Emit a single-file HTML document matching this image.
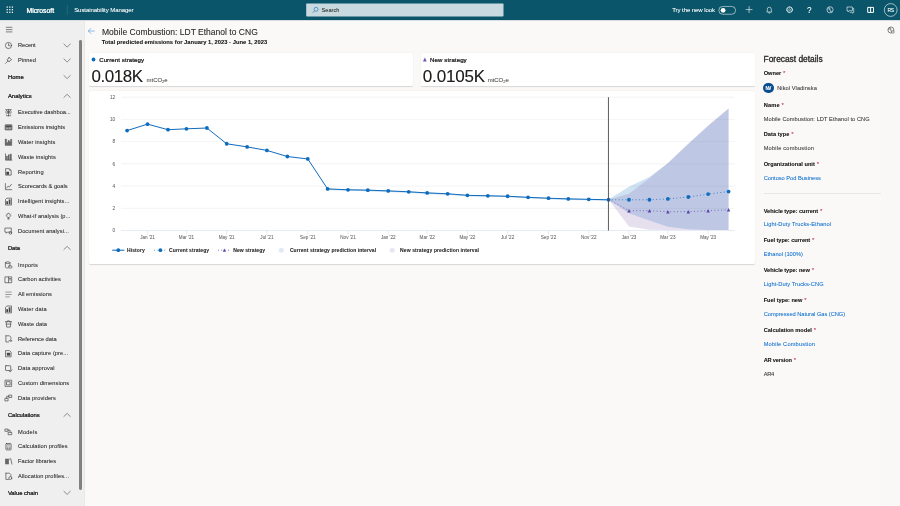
<!DOCTYPE html>
<html><head><meta charset="utf-8"><title>Sustainability Manager</title>
<style>
html,body{margin:0;padding:0;}
body{width:900px;height:506px;overflow:hidden;position:relative;background:#faf9f8;font-family:"Liberation Sans",sans-serif;}
.t{position:absolute;white-space:nowrap;line-height:1;}
.r{position:absolute;}
svg{position:absolute;overflow:visible;}
#wrap{position:absolute;left:0;top:0;width:900px;height:506px;overflow:hidden;will-change:transform;}
</style></head><body><div id="wrap">
<div class="r" style="left:0.00px;top:0.00px;width:900.00px;height:20.00px;background:#0b556a;"></div>
<div class="r" style="left:0.00px;top:20.00px;width:84.70px;height:486.00px;background:#efefef;box-shadow:inset -0.8px 0 0.6px rgba(0,0,0,0.035);"></div>
<div class="r" style="left:881.30px;top:20.50px;width:18.70px;height:486.00px;background:#f9f8f7;"></div>
<div class="r" style="left:0.00px;top:20.00px;width:900.00px;height:0.80px;background:#d5dde0;"></div>
<div class="r" style="left:78.90px;top:39.90px;width:2.95px;height:450.10px;background:#818181;border-radius:1.45px;"></div>
<div class="r" style="left:88.60px;top:52.50px;width:324.70px;height:33.70px;background:#fff;box-shadow:0 0.1px 0.7px rgba(0,0,0,.07),0 0.8px 1.6px rgba(0,0,0,.075);border-radius:1.6px;"></div>
<div class="r" style="left:420.90px;top:52.50px;width:333.70px;height:33.70px;background:#fff;box-shadow:0 0.1px 0.7px rgba(0,0,0,.07),0 0.8px 1.6px rgba(0,0,0,.075);border-radius:1.6px;"></div>
<div class="r" style="left:88.60px;top:91.10px;width:666.00px;height:172.80px;background:#fff;box-shadow:0 0.1px 0.7px rgba(0,0,0,.07),0 0.8px 1.6px rgba(0,0,0,.075);border-radius:1.6px;"></div>
<svg style="left:0;top:0" width="900" height="506" viewBox="0 0 900 506">
<line x1="121" x2="734.7" y1="208.32" y2="208.32" stroke="#e6e6e6" stroke-width="0.45"/>
<line x1="121" x2="734.7" y1="186.09" y2="186.09" stroke="#e6e6e6" stroke-width="0.45"/>
<line x1="121" x2="734.7" y1="163.86" y2="163.86" stroke="#e6e6e6" stroke-width="0.45"/>
<line x1="121" x2="734.7" y1="141.63" y2="141.63" stroke="#e6e6e6" stroke-width="0.45"/>
<line x1="121" x2="734.7" y1="119.40" y2="119.40" stroke="#e6e6e6" stroke-width="0.45"/>
<line x1="121" x2="734.7" y1="97.17" y2="97.17" stroke="#e6e6e6" stroke-width="0.45"/>
<polygon points="608.53,199.60 628.98,186.70 649.42,177.00 667.89,163.30 688.33,144.00 708.12,126.00 728.56,108.80 728.56,229.90 708.12,229.90 688.33,229.30 667.89,226.80 649.42,220.50 628.98,213.30 608.53,199.60" fill="rgba(15,108,189,0.2)"/>
<polygon points="608.53,199.60 628.98,193.70 649.42,178.20 667.89,163.00 688.33,143.50 708.12,125.50 728.56,108.30 728.56,229.90 708.12,229.90 688.33,229.90 667.89,229.90 649.42,229.70 628.98,226.50 608.53,199.60" fill="rgba(125,95,170,0.2)"/>
<polygon points="327.59,188.61 348.03,189.49 367.82,189.83 388.26,190.60 408.71,191.49 427.17,192.60 447.62,193.49 467.40,195.04 487.85,195.48 507.63,195.93 528.08,197.03 548.52,197.92 568.31,198.59 588.75,199.03 608.53,199.47 608.53,200.77 588.75,200.33 568.31,199.89 548.52,199.22 528.08,198.33 507.63,197.23 487.85,196.78 467.40,196.34 447.62,194.79 427.17,193.90 408.71,192.79 388.26,191.90 367.82,191.13 348.03,190.79 327.59,189.91" fill="rgba(15,108,189,0.28)"/>
<line x1="121" x2="734.7" y1="230.55" y2="230.55" stroke="#ccd6eb" stroke-width="0.5"/>
<line x1="147.54" x2="147.54" y1="230.55" y2="234.75" stroke="#ccd6eb" stroke-width="0.5"/>
<line x1="186.45" x2="186.45" y1="230.55" y2="234.75" stroke="#ccd6eb" stroke-width="0.5"/>
<line x1="226.68" x2="226.68" y1="230.55" y2="234.75" stroke="#ccd6eb" stroke-width="0.5"/>
<line x1="266.91" x2="266.91" y1="230.55" y2="234.75" stroke="#ccd6eb" stroke-width="0.5"/>
<line x1="307.80" x2="307.80" y1="230.55" y2="234.75" stroke="#ccd6eb" stroke-width="0.5"/>
<line x1="348.03" x2="348.03" y1="230.55" y2="234.75" stroke="#ccd6eb" stroke-width="0.5"/>
<line x1="388.26" x2="388.26" y1="230.55" y2="234.75" stroke="#ccd6eb" stroke-width="0.5"/>
<line x1="427.17" x2="427.17" y1="230.55" y2="234.75" stroke="#ccd6eb" stroke-width="0.5"/>
<line x1="467.40" x2="467.40" y1="230.55" y2="234.75" stroke="#ccd6eb" stroke-width="0.5"/>
<line x1="507.63" x2="507.63" y1="230.55" y2="234.75" stroke="#ccd6eb" stroke-width="0.5"/>
<line x1="548.52" x2="548.52" y1="230.55" y2="234.75" stroke="#ccd6eb" stroke-width="0.5"/>
<line x1="588.75" x2="588.75" y1="230.55" y2="234.75" stroke="#ccd6eb" stroke-width="0.5"/>
<line x1="628.98" x2="628.98" y1="230.55" y2="234.75" stroke="#ccd6eb" stroke-width="0.5"/>
<line x1="667.89" x2="667.89" y1="230.55" y2="234.75" stroke="#ccd6eb" stroke-width="0.5"/>
<line x1="708.12" x2="708.12" y1="230.55" y2="234.75" stroke="#ccd6eb" stroke-width="0.5"/>
<polyline fill="none" stroke="#0f6cbd" stroke-width="1.0" stroke-linejoin="round" points="127.10,130.57 147.54,124.14 167.99,129.69 186.45,128.80 206.90,128.02 226.68,143.77 247.13,146.88 266.91,150.42 287.36,156.52 307.80,158.96 327.59,188.91 348.03,189.79 367.82,190.13 388.26,190.90 408.71,191.79 427.17,192.90 447.62,193.79 467.40,195.34 487.85,195.78 507.63,196.23 528.08,197.33 548.52,198.22 568.31,198.89 588.75,199.33 608.53,199.77"/>
<circle cx="127.10" cy="130.57" r="1.9" fill="#0f6cbd"/>
<circle cx="147.54" cy="124.14" r="1.9" fill="#0f6cbd"/>
<circle cx="167.99" cy="129.69" r="1.9" fill="#0f6cbd"/>
<circle cx="186.45" cy="128.80" r="1.9" fill="#0f6cbd"/>
<circle cx="206.90" cy="128.02" r="1.9" fill="#0f6cbd"/>
<circle cx="226.68" cy="143.77" r="1.9" fill="#0f6cbd"/>
<circle cx="247.13" cy="146.88" r="1.9" fill="#0f6cbd"/>
<circle cx="266.91" cy="150.42" r="1.9" fill="#0f6cbd"/>
<circle cx="287.36" cy="156.52" r="1.9" fill="#0f6cbd"/>
<circle cx="307.80" cy="158.96" r="1.9" fill="#0f6cbd"/>
<circle cx="327.59" cy="188.91" r="1.9" fill="#0f6cbd"/>
<circle cx="348.03" cy="189.79" r="1.9" fill="#0f6cbd"/>
<circle cx="367.82" cy="190.13" r="1.9" fill="#0f6cbd"/>
<circle cx="388.26" cy="190.90" r="1.9" fill="#0f6cbd"/>
<circle cx="408.71" cy="191.79" r="1.9" fill="#0f6cbd"/>
<circle cx="427.17" cy="192.90" r="1.9" fill="#0f6cbd"/>
<circle cx="447.62" cy="193.79" r="1.9" fill="#0f6cbd"/>
<circle cx="467.40" cy="195.34" r="1.9" fill="#0f6cbd"/>
<circle cx="487.85" cy="195.78" r="1.9" fill="#0f6cbd"/>
<circle cx="507.63" cy="196.23" r="1.9" fill="#0f6cbd"/>
<circle cx="528.08" cy="197.33" r="1.9" fill="#0f6cbd"/>
<circle cx="548.52" cy="198.22" r="1.9" fill="#0f6cbd"/>
<circle cx="568.31" cy="198.89" r="1.9" fill="#0f6cbd"/>
<circle cx="588.75" cy="199.33" r="1.9" fill="#0f6cbd"/>
<circle cx="608.53" cy="199.77" r="1.9" fill="#0f6cbd"/>
<polyline fill="none" stroke="#0f6cbd" stroke-width="0.85" stroke-dasharray="0.85 2.55" points="608.53,199.77 628.98,199.77 649.42,199.77 667.89,198.89 688.33,197.00 708.12,194.12 728.56,191.57"/>
<circle cx="628.98" cy="199.77" r="1.9" fill="#0f6cbd"/>
<circle cx="649.42" cy="199.77" r="1.9" fill="#0f6cbd"/>
<circle cx="667.89" cy="198.89" r="1.9" fill="#0f6cbd"/>
<circle cx="688.33" cy="197.00" r="1.9" fill="#0f6cbd"/>
<circle cx="708.12" cy="194.12" r="1.9" fill="#0f6cbd"/>
<circle cx="728.56" cy="191.57" r="1.9" fill="#0f6cbd"/>
<polyline fill="none" stroke="#5a46a8" stroke-width="0.85" stroke-dasharray="0.85 2.55" points="608.53,199.60 628.98,210.70 649.42,210.70 667.89,211.70 688.33,211.70 708.12,210.70 728.56,209.80"/>
<polygon points="628.98,208.95 630.73,212.45 627.23,212.45" fill="#5a46a8"/>
<polygon points="649.42,208.95 651.17,212.45 647.67,212.45" fill="#5a46a8"/>
<polygon points="667.89,209.95 669.64,213.45 666.14,213.45" fill="#5a46a8"/>
<polygon points="688.33,209.95 690.08,213.45 686.58,213.45" fill="#5a46a8"/>
<polygon points="708.12,208.95 709.87,212.45 706.37,212.45" fill="#5a46a8"/>
<polygon points="728.56,208.05 730.31,211.55 726.81,211.55" fill="#5a46a8"/>
<line x1="608.45" x2="608.45" y1="97.2" y2="230.55" stroke="#4a4a4a" stroke-width="0.9"/>
</svg>
<div class="t" style="left:112.59px;top:229.00px;font-size:4.70px;color:#6e6e6e;text-shadow:0 0 0.5px rgba(110,110,110,0.4);">0</div>
<div class="t" style="left:112.59px;top:207.00px;font-size:4.70px;color:#6e6e6e;text-shadow:0 0 0.5px rgba(110,110,110,0.4);">2</div>
<div class="t" style="left:112.59px;top:185.00px;font-size:4.70px;color:#6e6e6e;text-shadow:0 0 0.5px rgba(110,110,110,0.4);">4</div>
<div class="t" style="left:112.59px;top:163.00px;font-size:4.70px;color:#6e6e6e;text-shadow:0 0 0.5px rgba(110,110,110,0.4);">6</div>
<div class="t" style="left:112.59px;top:140.00px;font-size:4.70px;color:#6e6e6e;text-shadow:0 0 0.5px rgba(110,110,110,0.4);">8</div>
<div class="t" style="left:109.97px;top:118.00px;font-size:4.70px;color:#6e6e6e;text-shadow:0 0 0.5px rgba(110,110,110,0.4);">10</div>
<div class="t" style="left:109.97px;top:96.00px;font-size:4.70px;color:#6e6e6e;text-shadow:0 0 0.5px rgba(110,110,110,0.4);">12</div>
<div class="t" style="left:140.20px;top:236.00px;font-size:4.60px;color:#6e6e6e;text-shadow:0 0 0.5px rgba(110,110,110,0.4);">Jan &#x27;21</div>
<div class="t" style="left:178.86px;top:236.00px;font-size:4.60px;color:#6e6e6e;text-shadow:0 0 0.5px rgba(110,110,110,0.4);">Mar &#x27;21</div>
<div class="t" style="left:218.70px;top:236.00px;font-size:4.60px;color:#6e6e6e;text-shadow:0 0 0.5px rgba(110,110,110,0.4);">May &#x27;21</div>
<div class="t" style="left:260.34px;top:236.00px;font-size:4.60px;color:#6e6e6e;text-shadow:0 0 0.5px rgba(110,110,110,0.4);">Jul &#x27;21</div>
<div class="t" style="left:300.07px;top:236.00px;font-size:4.60px;color:#6e6e6e;text-shadow:0 0 0.5px rgba(110,110,110,0.4);">Sep &#x27;21</div>
<div class="t" style="left:340.31px;top:236.00px;font-size:4.60px;color:#6e6e6e;text-shadow:0 0 0.5px rgba(110,110,110,0.4);">Nov &#x27;21</div>
<div class="t" style="left:380.92px;top:236.00px;font-size:4.60px;color:#6e6e6e;text-shadow:0 0 0.5px rgba(110,110,110,0.4);">Jan &#x27;22</div>
<div class="t" style="left:419.57px;top:236.00px;font-size:4.60px;color:#6e6e6e;text-shadow:0 0 0.5px rgba(110,110,110,0.4);">Mar &#x27;22</div>
<div class="t" style="left:459.42px;top:236.00px;font-size:4.60px;color:#6e6e6e;text-shadow:0 0 0.5px rgba(110,110,110,0.4);">May &#x27;22</div>
<div class="t" style="left:501.05px;top:236.00px;font-size:4.60px;color:#6e6e6e;text-shadow:0 0 0.5px rgba(110,110,110,0.4);">Jul &#x27;22</div>
<div class="t" style="left:540.79px;top:236.00px;font-size:4.60px;color:#6e6e6e;text-shadow:0 0 0.5px rgba(110,110,110,0.4);">Sep &#x27;22</div>
<div class="t" style="left:581.02px;top:236.00px;font-size:4.60px;color:#6e6e6e;text-shadow:0 0 0.5px rgba(110,110,110,0.4);">Nov &#x27;22</div>
<div class="t" style="left:621.63px;top:236.00px;font-size:4.60px;color:#6e6e6e;text-shadow:0 0 0.5px rgba(110,110,110,0.4);">Jan &#x27;23</div>
<div class="t" style="left:660.29px;top:236.00px;font-size:4.60px;color:#6e6e6e;text-shadow:0 0 0.5px rgba(110,110,110,0.4);">Mar &#x27;23</div>
<div class="t" style="left:700.14px;top:236.00px;font-size:4.60px;color:#6e6e6e;text-shadow:0 0 0.5px rgba(110,110,110,0.4);">May &#x27;23</div>
<svg style="left:0;top:0" width="900" height="506" viewBox="0 0 900 506">
<line x1="112.2" x2="124.4" y1="250.20" y2="250.20" stroke="#0f6cbd" stroke-width="1"/>
<circle cx="118.3" cy="250.20" r="1.9" fill="#0f6cbd"/>
<line x1="154.2" x2="166" y1="250.20" y2="250.20" stroke="#0f6cbd" stroke-width="0.85" stroke-dasharray="0.85 2.55"/>
<circle cx="160.4" cy="250.20" r="1.9" fill="#0f6cbd"/>
<line x1="218" x2="230.5" y1="250.20" y2="250.20" stroke="#5a46a8" stroke-width="0.85" stroke-dasharray="0.85 2.55"/>
<polygon points="224.40,248.60 226.00,251.80 222.80,251.80" fill="#5a46a8"/>
<circle cx="281.3" cy="250.20" r="2.5" fill="#dfeaf6"/>
<circle cx="392.2" cy="250.20" r="2.5" fill="#eae7f3"/>
</svg>
<div class="t" style="left:126.90px;top:248.00px;font-size:5.00px;color:#333;font-weight:700;letter-spacing:0.129px;text-shadow:0 0 0.5px rgba(51,51,51,0.4);">History</div>
<div class="t" style="left:169.10px;top:248.00px;font-size:5.00px;color:#333;font-weight:700;letter-spacing:0.073px;text-shadow:0 0 0.5px rgba(51,51,51,0.4);">Current strategy</div>
<div class="t" style="left:233.30px;top:248.00px;font-size:5.00px;color:#333;font-weight:700;letter-spacing:0.061px;text-shadow:0 0 0.5px rgba(51,51,51,0.4);">New strategy</div>
<div class="t" style="left:289.90px;top:248.00px;font-size:5.00px;color:#333;font-weight:700;letter-spacing:0.073px;text-shadow:0 0 0.5px rgba(51,51,51,0.4);">Current strategy prediction interval</div>
<div class="t" style="left:400.10px;top:248.00px;font-size:5.00px;color:#333;font-weight:700;letter-spacing:0.098px;text-shadow:0 0 0.5px rgba(51,51,51,0.4);">New strategy prediction interval</div>
<svg style="left:0;top:0" width="900" height="20" viewBox="0 0 900 20">
<rect x="6.58" y="6.48" width="1.25" height="1.25" fill="#fff"/>
<rect x="6.58" y="9.08" width="1.25" height="1.25" fill="#fff"/>
<rect x="6.58" y="11.68" width="1.25" height="1.25" fill="#fff"/>
<rect x="9.18" y="6.48" width="1.25" height="1.25" fill="#fff"/>
<rect x="9.18" y="9.08" width="1.25" height="1.25" fill="#fff"/>
<rect x="9.18" y="11.68" width="1.25" height="1.25" fill="#fff"/>
<rect x="11.78" y="6.48" width="1.25" height="1.25" fill="#fff"/>
<rect x="11.78" y="9.08" width="1.25" height="1.25" fill="#fff"/>
<rect x="11.78" y="11.68" width="1.25" height="1.25" fill="#fff"/>
<line x1="67.3" x2="67.3" y1="5.2" y2="14.8" stroke="#3f7a8b" stroke-width="0.5"/>
<rect x="306.2" y="3.4" width="197.3" height="13.2" rx="0.8" fill="#c8dadf"/>
<circle cx="316.1" cy="9.3" r="2.0" fill="none" stroke="#0f6cbd" stroke-width="0.6"/><line x1="314.7" y1="10.8" x2="312.6" y2="12.9" stroke="#0f6cbd" stroke-width="0.6"/>
<rect x="718.8" y="6.45" width="16.8" height="7.8" rx="3.9" fill="none" stroke="#fff" stroke-width="0.55"/><circle cx="723.1" cy="10.35" r="2.4" fill="#fff"/>
<path d="M745.7 9.6 H752.5 M749.1 6.2 V13" stroke="#fff" stroke-width="0.6" fill="none"/>
<path d="M767.3 11.2 V9.2 a2.0 2.0 0 0 1 4.0 0 V11.2 l0.6 0.8 h-5.2 z M768.5 12.4 a0.85 0.85 0 0 0 1.7 0" stroke="#fff" stroke-width="0.6" fill="none" stroke-linejoin="round"/>
<circle cx="789.6" cy="9.7" r="2.9" fill="none" stroke="#fff" stroke-width="1.0" stroke-dasharray="1.2 0.62"/><circle cx="789.6" cy="9.7" r="2.5" fill="none" stroke="#fff" stroke-width="0.5"/><circle cx="789.6" cy="9.7" r="1.0" fill="none" stroke="#fff" stroke-width="0.5"/>
<circle cx="830" cy="9.8" r="3.1" fill="none" stroke="#fff" stroke-width="0.6"/><path d="M828.3 7.8 q1.9 -0.6 1.7 1.9 q-0.2 2.5 1.9 1.9" fill="none" stroke="#fff" stroke-width="0.6"/><path d="M827.4 9.2 q1.3 -0.9 2.3 0.4" fill="none" stroke="#fff" stroke-width="0.5"/>
<path d="M847 7 h5.4 v3.7 h-3.2 l-1.2 1.1 v-1.1 h-1 z" fill="none" stroke="#fff" stroke-width="0.6" stroke-linejoin="round"/><path d="M852.6 8.4 h1.1 v3.9 h-0.8 v1.0 l-1.1 -1.0 h-2.2" fill="none" stroke="#fff" stroke-width="0.6" stroke-linejoin="round"/>
<path d="M867.7 7.4 h5.8 v5 h-5.8 z M870.6 7.4 v5" fill="none" stroke="#fff" stroke-width="1.0" stroke-linejoin="round"/>
<circle cx="890.7" cy="10" r="6.4" fill="none" stroke="#fff" stroke-width="0.6"/>
</svg>
<div class="t" style="left:26.50px;top:8.00px;font-size:6.80px;color:#fff;letter-spacing:0.002px;text-shadow:0 0 0.5px rgba(255,255,255,0.4);-webkit-text-stroke:0.24px #fff;">Microsoft</div>
<div class="t" style="left:74.20px;top:7.00px;font-size:6.00px;color:#fff;letter-spacing:-0.067px;text-shadow:0 0 0.5px rgba(255,255,255,0.4);">Sustainability Manager</div>
<div class="t" style="left:321.60px;top:8.00px;font-size:5.60px;color:#323130;text-shadow:0 0 0.5px rgba(50,49,48,0.4);">Search</div>
<div class="t" style="left:672.20px;top:7.00px;font-size:6.00px;color:#fff;letter-spacing:-0.066px;text-shadow:0 0 0.5px rgba(255,255,255,0.4);">Try the new look</div>
<div class="t" style="left:807.10px;top:7.00px;font-size:8.20px;color:#fff;text-shadow:0 0 0.5px rgba(255,255,255,0.4);">?</div>
<div class="t" style="left:887.60px;top:8.00px;font-size:5.00px;color:#fff;letter-spacing:-0.546px;text-shadow:0 0 0.5px rgba(255,255,255,0.4);">RS</div>
<svg style="left:0;top:0" width="900" height="60" viewBox="0 0 900 60"><circle cx="890.9" cy="30.0" r="3.0" fill="none" stroke="#323130" stroke-width="0.6"/><path d="M889.2 28 q1.9 -0.6 1.7 1.9 q-0.2 2.5 1.9 1.9" fill="none" stroke="#323130" stroke-width="0.55"/><path d="M888.3 29.4 q1.3 -0.9 2.3 0.4" fill="none" stroke="#323130" stroke-width="0.5"/><circle cx="892.9" cy="32.0" r="1.3" fill="#f9f8f7" stroke="#323130" stroke-width="0.5"/></svg>
<div class="t" style="left:18.00px;top:43.00px;font-size:5.70px;color:#323130;letter-spacing:-0.072px;text-shadow:0 0 0.5px rgba(50,49,48,0.4);">Recent</div>
<div class="t" style="left:18.00px;top:58.00px;font-size:5.70px;color:#323130;letter-spacing:0.050px;text-shadow:0 0 0.5px rgba(50,49,48,0.4);">Pinned</div>
<div class="t" style="left:7.90px;top:75.00px;font-size:5.90px;color:#201f1e;letter-spacing:0.054px;text-shadow:0 0 0.5px rgba(32,31,30,0.4);-webkit-text-stroke:0.21px #201f1e;">Home</div>
<div class="t" style="left:7.90px;top:94.00px;font-size:5.90px;color:#201f1e;letter-spacing:0.024px;text-shadow:0 0 0.5px rgba(32,31,30,0.4);-webkit-text-stroke:0.21px #201f1e;">Analytics</div>
<div class="t" style="left:18.00px;top:110.00px;font-size:5.70px;color:#323130;letter-spacing:-0.006px;text-shadow:0 0 0.5px rgba(50,49,48,0.4);">Executive dashboa...</div>
<div class="t" style="left:18.00px;top:125.00px;font-size:5.70px;color:#323130;letter-spacing:0.013px;text-shadow:0 0 0.5px rgba(50,49,48,0.4);">Emissions insights</div>
<div class="t" style="left:18.00px;top:140.00px;font-size:5.70px;color:#323130;letter-spacing:0.108px;text-shadow:0 0 0.5px rgba(50,49,48,0.4);">Water insights</div>
<div class="t" style="left:18.00px;top:155.00px;font-size:5.70px;color:#323130;letter-spacing:0.073px;text-shadow:0 0 0.5px rgba(50,49,48,0.4);">Waste insights</div>
<div class="t" style="left:18.00px;top:170.00px;font-size:5.70px;color:#323130;letter-spacing:0.111px;text-shadow:0 0 0.5px rgba(50,49,48,0.4);">Reporting</div>
<div class="t" style="left:18.00px;top:184.00px;font-size:5.70px;color:#323130;letter-spacing:0.016px;text-shadow:0 0 0.5px rgba(50,49,48,0.4);">Scorecards &amp; goals</div>
<div class="t" style="left:18.00px;top:199.00px;font-size:5.70px;color:#323130;letter-spacing:0.065px;text-shadow:0 0 0.5px rgba(50,49,48,0.4);">Intelligent insights...</div>
<div class="t" style="left:18.00px;top:214.00px;font-size:5.70px;color:#323130;letter-spacing:0.041px;text-shadow:0 0 0.5px rgba(50,49,48,0.4);">What-if analysis (p...</div>
<div class="t" style="left:18.00px;top:229.00px;font-size:5.70px;color:#323130;letter-spacing:0.047px;text-shadow:0 0 0.5px rgba(50,49,48,0.4);">Document analysi...</div>
<div class="t" style="left:7.90px;top:246.00px;font-size:5.90px;color:#201f1e;letter-spacing:-0.121px;text-shadow:0 0 0.5px rgba(32,31,30,0.4);-webkit-text-stroke:0.21px #201f1e;">Data</div>
<div class="t" style="left:18.00px;top:263.00px;font-size:5.70px;color:#323130;letter-spacing:0.166px;text-shadow:0 0 0.5px rgba(50,49,48,0.4);">Imports</div>
<div class="t" style="left:18.00px;top:277.00px;font-size:5.70px;color:#323130;letter-spacing:0.048px;text-shadow:0 0 0.5px rgba(50,49,48,0.4);">Carbon activities</div>
<div class="t" style="left:18.00px;top:292.00px;font-size:5.70px;color:#323130;letter-spacing:0.053px;text-shadow:0 0 0.5px rgba(50,49,48,0.4);">All emissions</div>
<div class="t" style="left:18.00px;top:307.00px;font-size:5.70px;color:#323130;letter-spacing:0.104px;text-shadow:0 0 0.5px rgba(50,49,48,0.4);">Water data</div>
<div class="t" style="left:18.00px;top:322.00px;font-size:5.70px;color:#323130;letter-spacing:0.042px;text-shadow:0 0 0.5px rgba(50,49,48,0.4);">Waste data</div>
<div class="t" style="left:18.00px;top:337.00px;font-size:5.70px;color:#323130;letter-spacing:-0.021px;text-shadow:0 0 0.5px rgba(50,49,48,0.4);">Reference data</div>
<div class="t" style="left:18.00px;top:351.00px;font-size:5.70px;color:#323130;letter-spacing:0.057px;text-shadow:0 0 0.5px rgba(50,49,48,0.4);">Data capture (pre...</div>
<div class="t" style="left:18.00px;top:366.00px;font-size:5.70px;color:#323130;letter-spacing:0.093px;text-shadow:0 0 0.5px rgba(50,49,48,0.4);">Data approval</div>
<div class="t" style="left:18.00px;top:381.00px;font-size:5.70px;color:#323130;letter-spacing:0.078px;text-shadow:0 0 0.5px rgba(50,49,48,0.4);">Custom dimensions</div>
<div class="t" style="left:18.00px;top:396.00px;font-size:5.70px;color:#323130;letter-spacing:0.072px;text-shadow:0 0 0.5px rgba(50,49,48,0.4);">Data providers</div>
<div class="t" style="left:7.90px;top:413.00px;font-size:5.90px;color:#201f1e;letter-spacing:-0.022px;text-shadow:0 0 0.5px rgba(32,31,30,0.4);-webkit-text-stroke:0.21px #201f1e;">Calculations</div>
<div class="t" style="left:18.00px;top:430.00px;font-size:5.70px;color:#323130;letter-spacing:0.185px;text-shadow:0 0 0.5px rgba(50,49,48,0.4);">Models</div>
<div class="t" style="left:18.00px;top:444.00px;font-size:5.70px;color:#323130;letter-spacing:0.086px;text-shadow:0 0 0.5px rgba(50,49,48,0.4);">Calculation profiles</div>
<div class="t" style="left:18.00px;top:459.00px;font-size:5.70px;color:#323130;letter-spacing:0.027px;text-shadow:0 0 0.5px rgba(50,49,48,0.4);">Factor libraries</div>
<div class="t" style="left:18.00px;top:474.00px;font-size:5.70px;color:#323130;letter-spacing:0.080px;text-shadow:0 0 0.5px rgba(50,49,48,0.4);">Allocation profiles...</div>
<div class="t" style="left:7.90px;top:491.00px;font-size:5.90px;color:#201f1e;letter-spacing:-0.020px;text-shadow:0 0 0.5px rgba(32,31,30,0.4);-webkit-text-stroke:0.21px #201f1e;">Value chain</div>
<svg style="left:0;top:0" width="90" height="506" viewBox="0 0 90 506">
<path d="M5.9 27.3 H12.4 M5.9 29.6 H12.4 M5.9 31.9 H12.4" stroke="#323130" stroke-width="0.6" fill="none"/>
<g transform="translate(8.50 45.50)"><circle cx="0" cy="0" r="3.1" stroke="#484644" stroke-width="0.68" fill="none" stroke-linejoin="round" stroke-linecap="round"/><path d="M0 -1.8 V0.2 H1.6" stroke="#484644" stroke-width="0.68" fill="none" stroke-linejoin="round" stroke-linecap="round"/></g>
<path d="M63.9 44.00 L67.1 47.10 L70.3 44.00" stroke="#3b3a39" stroke-width="0.55" fill="none" stroke-linecap="round" stroke-linejoin="round"/>
<g transform="translate(8.50 60.40)"><path d="M0.6 -3.1 L3.1 -0.6 L1.9 -0.2 L0.6 1.6 L-1.6 -0.6 L0.2 -1.9 Z M-0.6 0.6 L-3 3" stroke="#484644" stroke-width="0.68" fill="none" stroke-linejoin="round" stroke-linecap="round"/></g>
<path d="M63.9 58.90 L67.1 62.00 L70.3 58.90" stroke="#3b3a39" stroke-width="0.55" fill="none" stroke-linecap="round" stroke-linejoin="round"/>
<path d="M63.9 75.50 L67.1 78.60 L70.3 75.50" stroke="#3b3a39" stroke-width="0.55" fill="none" stroke-linecap="round" stroke-linejoin="round"/>
<path d="M63.9 97.40 L67.1 94.30 L70.3 97.40" stroke="#3b3a39" stroke-width="0.55" fill="none" stroke-linecap="round" stroke-linejoin="round"/>
<g transform="translate(8.50 112.65)"><path d="M-3 -0.6 H3 M0 -3.2 V3.2 M-2.4 -2.6 L2.4 1.6 M2.4 -2.6 L-2.4 1.6 M-2.6 -3 H2.6 M-2 3.1 H2" stroke="#484644" stroke-width="0.68" fill="none" stroke-linejoin="round" stroke-linecap="round"/></g>
<g transform="translate(8.50 127.45)"><rect x="-3.4" y="-2.7" width="6.9" height="5.2" rx="0.4" fill="#8a8886" stroke="#484644" stroke-width="0.6"/><path d="M-2.4 -1.7 H2.6 V-0.2 H-2.4 Z" fill="#484644"/><path d="M0.4 0.6 H2.4 M-2.2 0.8 H-0.8" stroke="#efefef" stroke-width="0.6"/></g>
<g transform="translate(8.50 142.25)"><path d="M-3.4 -3.2 V3.2 H3.3 V-3 H2 V-0.4 H0.9 V-1.8 H-0.5 V0.2 H-1.9 V-3.2 Z" fill="#6a6866" stroke="#484644" stroke-width="0.3"/></g>
<g transform="translate(8.50 157.05)"><path d="M-3 -3.2 V3.1 H3.3" stroke="#484644" stroke-width="0.68" fill="none" stroke-linejoin="round" stroke-linecap="round"/><rect x="-2.2" y="-1.2" width="1.3" height="4.2" fill="#484644"/><rect x="-0.3" y="-2.6" width="1.3" height="5.6" fill="#484644"/><rect x="1.7" y="-3.2" width="1.3" height="6.2" fill="#484644"/></g>
<g transform="translate(8.50 171.85)"><path d="M-2.5 -3.2 H0.8 L2.7 -1.3 V3.3 H-2.5 Z" stroke="#484644" stroke-width="0.68" fill="none" stroke-linejoin="round" stroke-linecap="round"/><path d="M-2.2 0 H0.6 V3 H-2.2 Z M0.8 -3 V-1.3 H2.6" fill="#484644"/></g>
<g transform="translate(8.50 186.65)"><path d="M-3.1 -3.1 V3 H3.2 M-2 1.4 L-0.4 -0.6 L0.8 0.4 L3 -2.4" stroke="#484644" stroke-width="0.68" fill="none" stroke-linejoin="round" stroke-linecap="round"/></g>
<g transform="translate(8.50 201.45)"><path d="M-3 3.2 V-2 L-1.6 -3.3 H3 V3.2 Z" stroke="#484644" stroke-width="0.68" fill="none" stroke-linejoin="round" stroke-linecap="round"/><rect x="-2.2" y="-0.2" width="1.7" height="3" fill="#484644"/><rect x="0.2" y="-2" width="1.8" height="4.8" fill="#484644"/></g>
<g transform="translate(8.50 216.25)"><path d="M-1 1 Q-2 0.1 -1.8 -1 A1.8 1.8 0 0 1 1.8 -1 Q2 0.1 1 1 Z M-0.8 2 H0.8 M-0.5 2.9 H0.5" stroke="#484644" stroke-width="0.68" fill="none" stroke-linejoin="round" stroke-linecap="round"/><path d="M0 -3.6 V-3.2 M-2.7 -2.6 L-2.4 -2.3 M2.7 -2.6 L2.4 -2.3 M-3.4 -0.6 H-3 M3.4 -0.6 H3" stroke="#484644" stroke-width="0.45" fill="none"/></g>
<g transform="translate(8.50 231.05)"><path d="M-3.2 -3 H2.8 V1 H-1 L-2.2 2.2 V1 H-3.2 Z" stroke="#484644" stroke-width="0.68" fill="none" stroke-linejoin="round" stroke-linecap="round"/><circle cx="1.9" cy="1.9" r="1.3" stroke="#484644" stroke-width="0.68" fill="none" stroke-linejoin="round" stroke-linecap="round"/></g>
<path d="M63.9 249.50 L67.1 246.40 L70.3 249.50" stroke="#3b3a39" stroke-width="0.55" fill="none" stroke-linecap="round" stroke-linejoin="round"/>
<g transform="translate(8.50 264.90)"><path d="M-3.1 -2.2 a2.3 0.9 0 0 1 4.6 0 V0.4 M-3.1 -2.2 V2.3 a2.3 0.9 0 0 0 2.6 0.8 M-3.1 -2.2 a2.3 0.9 0 0 0 4.6 0" stroke="#484644" stroke-width="0.68" fill="none" stroke-linejoin="round" stroke-linecap="round"/><rect x="0.2" y="1.0" width="3.1" height="2.1" rx="0.4" stroke="#484644" stroke-width="0.68" fill="none" stroke-linejoin="round" stroke-linecap="round"/></g>
<g transform="translate(8.50 279.70)"><path d="M-3.2 -2.8 H0 V3 H-3.2 Z M0 -2.8 H3.2 V3 H0 M1 -1.2 H2.2 M1 0.2 H2.2" stroke="#484644" stroke-width="0.68" fill="none" stroke-linejoin="round" stroke-linecap="round"/></g>
<g transform="translate(8.50 294.50)"><path d="M-3.2 -2.4 H3.2 M-3.2 0 H3.2 M-3.2 2.4 H1.2" stroke="#484644" stroke-width="0.5" fill="none"/></g>
<g transform="translate(8.50 309.30)"><path d="M-3 3.2 V-2 L-1.6 -3.3 H3 V3.2 Z" stroke="#484644" stroke-width="0.68" fill="none" stroke-linejoin="round" stroke-linecap="round"/><rect x="-2.2" y="-0.2" width="1.7" height="3" fill="#484644"/><rect x="0.2" y="-2" width="1.8" height="4.8" fill="#484644"/></g>
<g transform="translate(8.50 324.10)"><path d="M-3 -2.4 H3 M-2.4 -2.4 L-1.8 3 H1.8 L2.4 -2.4 M-1 -2.4 V-3.2 H1 V-2.4 M-2.2 0 H2.2" stroke="#484644" stroke-width="0.68" fill="none" stroke-linejoin="round" stroke-linecap="round"/></g>
<g transform="translate(8.50 338.90)"><path d="M-2.6 -3.1 H1 L2.4 -1.7 V0 M-2.6 -3.1 V3.1 H0" stroke="#484644" stroke-width="0.68" fill="none" stroke-linejoin="round" stroke-linecap="round"/><path d="M0.4 1.8 H3.2 M2.2 0.8 L3.2 1.8 L2.2 2.8" stroke="#484644" stroke-width="0.68" fill="none" stroke-linejoin="round" stroke-linecap="round"/></g>
<g transform="translate(8.50 353.70)"><path d="M-2.6 -3.1 H1 L2.6 -1.5 V3.1 H-2.6 Z M-1.4 -0.4 H1.4 M-1.4 1.2 H1.4" stroke="#484644" stroke-width="0.68" fill="none" stroke-linejoin="round" stroke-linecap="round"/><rect x="-1.6" y="-0.8" width="3.2" height="2.6" fill="#484644"/></g>
<g transform="translate(8.50 368.50)"><rect x="-3" y="-2.8" width="5.2" height="4.8" rx="0.5" stroke="#484644" stroke-width="0.68" fill="none" stroke-linejoin="round" stroke-linecap="round"/><path d="M0.6 2.6 L1.8 3.4 L3.4 1.2" stroke="#484644" stroke-width="0.68" fill="none" stroke-linejoin="round" stroke-linecap="round"/></g>
<g transform="translate(8.50 383.30)"><rect x="-3.1" y="-3.1" width="6.2" height="6.2" stroke="#484644" stroke-width="0.68" fill="none" stroke-linejoin="round" stroke-linecap="round"/><rect x="-1.6" y="-1.6" width="3.2" height="3.2" stroke="#484644" stroke-width="0.68" fill="none" stroke-linejoin="round" stroke-linecap="round"/></g>
<g transform="translate(8.50 398.10)"><rect x="-3.2" y="0.2" width="2.8" height="2.6" stroke="#484644" stroke-width="0.68" fill="none" stroke-linejoin="round" stroke-linecap="round"/><rect x="0.6" y="-3" width="2.6" height="2.4" stroke="#484644" stroke-width="0.68" fill="none" stroke-linejoin="round" stroke-linecap="round"/><path d="M-1.8 0.2 V-1.8 H0.6" stroke="#484644" stroke-width="0.68" fill="none" stroke-linejoin="round" stroke-linecap="round"/></g>
<path d="M63.9 416.50 L67.1 413.40 L70.3 416.50" stroke="#3b3a39" stroke-width="0.55" fill="none" stroke-linecap="round" stroke-linejoin="round"/>
<g transform="translate(8.50 431.90)"><rect x="-3.2" y="-2.8" width="2.8" height="2.2" stroke="#484644" stroke-width="0.68" fill="none" stroke-linejoin="round" stroke-linecap="round"/><rect x="0" y="0.4" width="3.2" height="2.4" stroke="#484644" stroke-width="0.68" fill="none" stroke-linejoin="round" stroke-linecap="round"/><path d="M-0.4 -1.7 H1.6 V0.4" stroke="#484644" stroke-width="0.68" fill="none" stroke-linejoin="round" stroke-linecap="round"/></g>
<g transform="translate(8.50 446.70)"><rect x="-2.6" y="-3.2" width="5.2" height="6.4" rx="0.5" stroke="#484644" stroke-width="0.68" fill="none" stroke-linejoin="round" stroke-linecap="round"/><path d="M-1.4 -1.8 H1.4 M-1.4 0.4 H-0.6 M0.6 0.4 H1.4 M-1.4 1.9 H-0.6 M0.6 1.9 H1.4" stroke="#484644" stroke-width="0.68" fill="none" stroke-linejoin="round" stroke-linecap="round"/></g>
<g transform="translate(8.50 461.50)"><rect x="-3.2" y="-2.8" width="1.5" height="5.6" fill="#484644"/><rect x="-1.3" y="-2.8" width="1.5" height="5.6" fill="#484644"/><path d="M1 -2.4 L2.2 -2.8 L3.4 2.6" stroke="#484644" stroke-width="0.68" fill="none" stroke-linejoin="round" stroke-linecap="round"/></g>
<g transform="translate(8.50 476.30)"><path d="M-2.6 -3.1 H1 L2.4 -1.7 V0 M-2.6 -3.1 V3.1 H0" stroke="#484644" stroke-width="0.68" fill="none" stroke-linejoin="round" stroke-linecap="round"/><circle cx="1.8" cy="1.8" r="1.5" stroke="#484644" stroke-width="0.68" fill="none" stroke-linejoin="round" stroke-linecap="round"/></g>
<path d="M63.9 491.30 L67.1 494.40 L70.3 491.30" stroke="#3b3a39" stroke-width="0.55" fill="none" stroke-linecap="round" stroke-linejoin="round"/>
</svg>
<svg style="left:0;top:0" width="120" height="50" viewBox="0 0 120 50"><path d="M94.4 31 H88.4 M90.9 28.4 L88.3 31 L90.9 33.6" stroke="#4f8de0" stroke-width="0.6" fill="none" stroke-linecap="round" stroke-linejoin="round"/></svg>
<div class="t" style="left:101.70px;top:28.00px;font-size:9.20px;color:#323130;transform:scaleX(0.9282);transform-origin:0 50%;text-shadow:0 0 0.5px rgba(50,49,48,0.4);">Mobile Combustion: LDT Ethanol to CNG</div>
<div class="t" style="left:101.70px;top:40.00px;font-size:5.80px;color:#201f1e;font-weight:700;letter-spacing:0.013px;text-shadow:0 0 0.5px rgba(32,31,30,0.4);">Total predicted emissions for January 1, 2023 - June 1, 2023</div>
<svg style="left:0;top:0" width="900" height="100" viewBox="0 0 900 100"><circle cx="93.5" cy="59.5" r="1.9" fill="#0f6cbd"/><polygon points="424.85,57.5 426.75,61.6 422.95,61.6" fill="#7654b8"/></svg>
<div class="t" style="left:99.20px;top:57.00px;font-size:6.10px;color:#252423;letter-spacing:0.071px;text-shadow:0 0 0.5px rgba(37,36,35,0.4);-webkit-text-stroke:0.21px #252423;">Current strategy</div>
<div class="t" style="left:430.10px;top:57.00px;font-size:6.10px;color:#252423;letter-spacing:0.091px;text-shadow:0 0 0.5px rgba(37,36,35,0.4);-webkit-text-stroke:0.21px #252423;">New strategy</div>
<div class="t" style="left:91.40px;top:68.00px;font-size:17.00px;color:#201f1e;letter-spacing:-0.456px;text-shadow:0 0 0.5px rgba(32,31,30,0.4);">0.018K</div>
<div class="t" style="left:422.80px;top:68.00px;font-size:17.00px;color:#201f1e;letter-spacing:-0.156px;text-shadow:0 0 0.5px rgba(32,31,30,0.4);">0.0105K</div>
<div class="t" style="left:146.60px;top:77.00px;font-size:6.00px;color:#55534f;text-shadow:0 0 0.5px rgba(85,83,79,0.4);letter-spacing:-0.045px;">mtCO<span style="font-size:4px;position:relative;top:0.9px">2</span>e</div>
<div class="t" style="left:487.70px;top:77.00px;font-size:6.00px;color:#55534f;text-shadow:0 0 0.5px rgba(85,83,79,0.4);letter-spacing:-0.045px;">mtCO<span style="font-size:4px;position:relative;top:0.9px">2</span>e</div>
<div class="t" style="left:763.60px;top:55.00px;font-size:8.40px;color:#323130;letter-spacing:-0.006px;text-shadow:0 0 0.5px rgba(50,49,48,0.4);-webkit-text-stroke:0.29px #323130;">Forecast details</div>
<div class="t" style="left:763.70px;top:71.00px;font-size:5.65px;color:#252423;font-weight:700;letter-spacing:0.005px;text-shadow:0 0 0.5px rgba(37,36,35,0.4);">Owner</div>
<div class="t" style="left:783.10px;top:70.00px;font-size:6.00px;color:#c4314b;text-shadow:0 0 0.5px rgba(196,49,75,0.4);">*</div>
<div class="r" style="left:763.2px;top:82.7px;width:10.4px;height:10.4px;border-radius:50%;background:#0a4c90"></div>
<div class="t" style="left:765.45px;top:87.00px;font-size:4.60px;color:#fff;font-weight:700;letter-spacing:-0.490px;text-shadow:0 0 0.5px rgba(255,255,255,0.4);">NV</div>
<div class="t" style="left:777.20px;top:86.00px;font-size:5.70px;color:#454341;letter-spacing:0.052px;text-shadow:0 0 0.5px rgba(69,67,65,0.4);">Nikol Vladinska</div>
<div class="t" style="left:763.70px;top:103.00px;font-size:5.65px;color:#252423;font-weight:700;letter-spacing:0.204px;text-shadow:0 0 0.5px rgba(37,36,35,0.4);">Name</div>
<div class="t" style="left:781.50px;top:102.00px;font-size:6.00px;color:#c4314b;text-shadow:0 0 0.5px rgba(196,49,75,0.4);">*</div>
<div class="t" style="left:763.70px;top:117.00px;font-size:5.70px;color:#454341;letter-spacing:0.058px;text-shadow:0 0 0.5px rgba(69,67,65,0.4);">Mobile Combustion: LDT Ethanol to CNG</div>
<div class="t" style="left:763.70px;top:132.00px;font-size:5.65px;color:#252423;font-weight:700;letter-spacing:0.033px;text-shadow:0 0 0.5px rgba(37,36,35,0.4);">Data type</div>
<div class="t" style="left:791.20px;top:131.00px;font-size:6.00px;color:#c4314b;text-shadow:0 0 0.5px rgba(196,49,75,0.4);">*</div>
<div class="t" style="left:763.70px;top:146.00px;font-size:5.70px;color:#454341;letter-spacing:0.180px;text-shadow:0 0 0.5px rgba(69,67,65,0.4);">Mobile combustion</div>
<div class="t" style="left:763.70px;top:162.00px;font-size:5.65px;color:#252423;font-weight:700;letter-spacing:0.002px;text-shadow:0 0 0.5px rgba(37,36,35,0.4);">Organizational unit</div>
<div class="t" style="left:816.70px;top:161.00px;font-size:6.00px;color:#c4314b;text-shadow:0 0 0.5px rgba(196,49,75,0.4);">*</div>
<div class="t" style="left:763.70px;top:176.00px;font-size:5.70px;color:#1a76d2;letter-spacing:-0.019px;text-shadow:0 0 0.5px rgba(26,118,210,0.4);">Contoso Pod Business</div>
<div class="r" style="left:763.70px;top:192.70px;width:117.20px;height:0.50px;background:#e9e7e5;"></div>
<div class="t" style="left:763.70px;top:209.00px;font-size:5.65px;color:#252423;font-weight:700;letter-spacing:-0.054px;text-shadow:0 0 0.5px rgba(37,36,35,0.4);">Vehicle type: current</div>
<div class="t" style="left:820.00px;top:208.00px;font-size:6.00px;color:#c4314b;text-shadow:0 0 0.5px rgba(196,49,75,0.4);">*</div>
<div class="t" style="left:763.70px;top:222.00px;font-size:5.70px;color:#1a76d2;letter-spacing:0.076px;text-shadow:0 0 0.5px rgba(26,118,210,0.4);">Light-Duty Trucks-Ethanol</div>
<div class="t" style="left:763.70px;top:238.00px;font-size:5.65px;color:#252423;font-weight:700;letter-spacing:-0.066px;text-shadow:0 0 0.5px rgba(37,36,35,0.4);">Fuel type: current</div>
<div class="t" style="left:812.10px;top:237.00px;font-size:6.00px;color:#c4314b;text-shadow:0 0 0.5px rgba(196,49,75,0.4);">*</div>
<div class="t" style="left:763.70px;top:252.00px;font-size:5.70px;color:#1a76d2;letter-spacing:0.001px;text-shadow:0 0 0.5px rgba(26,118,210,0.4);">Ethanol (100%)</div>
<div class="t" style="left:763.70px;top:268.00px;font-size:5.65px;color:#252423;font-weight:700;letter-spacing:-0.056px;text-shadow:0 0 0.5px rgba(37,36,35,0.4);">Vehicle type: new</div>
<div class="t" style="left:811.70px;top:267.00px;font-size:6.00px;color:#c4314b;text-shadow:0 0 0.5px rgba(196,49,75,0.4);">*</div>
<div class="t" style="left:763.70px;top:282.00px;font-size:5.70px;color:#1a76d2;letter-spacing:0.054px;text-shadow:0 0 0.5px rgba(26,118,210,0.4);">Light-Duty Trucks-CNG</div>
<div class="t" style="left:763.70px;top:298.00px;font-size:5.65px;color:#252423;font-weight:700;letter-spacing:-0.042px;text-shadow:0 0 0.5px rgba(37,36,35,0.4);">Fuel type: new</div>
<div class="t" style="left:804.20px;top:297.00px;font-size:6.00px;color:#c4314b;text-shadow:0 0 0.5px rgba(196,49,75,0.4);">*</div>
<div class="t" style="left:763.70px;top:312.00px;font-size:5.70px;color:#1a76d2;letter-spacing:-0.028px;text-shadow:0 0 0.5px rgba(26,118,210,0.4);">Compressed Natural Gas (CNG)</div>
<div class="t" style="left:763.70px;top:328.00px;font-size:5.65px;color:#252423;font-weight:700;letter-spacing:-0.029px;text-shadow:0 0 0.5px rgba(37,36,35,0.4);">Calculation model</div>
<div class="t" style="left:813.70px;top:327.00px;font-size:6.00px;color:#c4314b;text-shadow:0 0 0.5px rgba(196,49,75,0.4);">*</div>
<div class="t" style="left:763.70px;top:342.00px;font-size:5.70px;color:#1a76d2;letter-spacing:0.157px;text-shadow:0 0 0.5px rgba(26,118,210,0.4);">Mobile Combustion</div>
<div class="t" style="left:763.70px;top:358.00px;font-size:5.65px;color:#252423;font-weight:700;letter-spacing:-0.181px;text-shadow:0 0 0.5px rgba(37,36,35,0.4);">AR version</div>
<div class="t" style="left:793.70px;top:357.00px;font-size:6.00px;color:#c4314b;text-shadow:0 0 0.5px rgba(196,49,75,0.4);">*</div>
<div class="t" style="left:763.70px;top:372.00px;font-size:5.70px;color:#454341;letter-spacing:-0.344px;text-shadow:0 0 0.5px rgba(69,67,65,0.4);">AR4</div>
</div></body></html>
